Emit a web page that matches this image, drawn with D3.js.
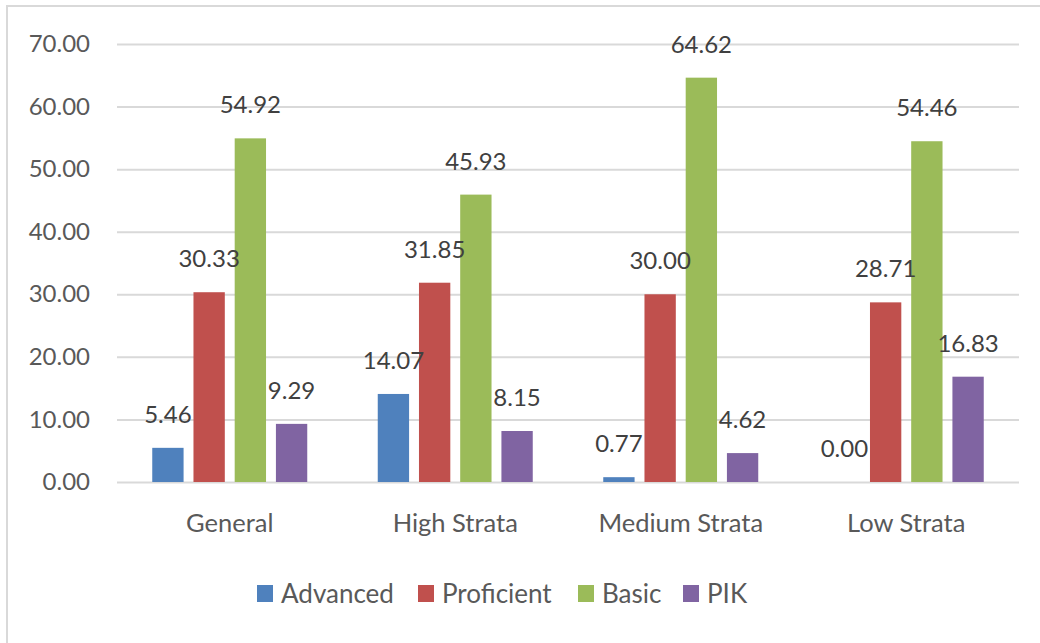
<!DOCTYPE html>
<html>
<head>
<meta charset="utf-8">
<script src="https://cdn.jsdelivr.net/npm/d3@7"></script>
<style>
  body { margin: 0; background: #fff; }
  svg { display: block; font-family: Lato, "Open Sans", sans-serif; }
</style>
</head>
<body>
<div id="chart"></div>
<script>
const categories = ["General", "High Strata", "Medium Strata", "Low Strata"];
const seriesNames = ["Advanced", "Proficient", "Basic", "PIK"];
const advanced = [5.46, 14.07, 0.77, 0.00];
const proficient = [30.33, 31.85, 30.00, 28.71];
const basic = [54.92, 45.93, 64.62, 54.46];
const pik = [9.29, 8.15, 4.62, 16.83];
const yTicks = [0, 10, 20, 30, 40, 50, 60, 70];
const colors = ["#4f81bd", "#c0504d", "#9bbb59", "#8064a2"];

const width = 1040, height = 643;
const plotLeft = 117, plotRight = 1019, plotTop = 44, plotBottom = 482;

const seriesValues = [advanced, proficient, basic, pik];
const rows = [];
categories.forEach((c, i) => {
    seriesNames.forEach((s, j) => {
        rows.push({cat: c, series: s, value: seriesValues[j][i]});
    });
});

const svg = d3.select("#chart").append("svg")
    .attr("width", width)
    .attr("height", height);

// outer frame
svg.append("rect")
    .attr("x", 7).attr("y", 6)
    .attr("width", width).attr("height", height)
    .attr("fill", "none")
    .attr("stroke", "#d9d9d9")
    .attr("stroke-width", 2);

const y = d3.scaleLinear().domain([0, 70]).range([plotBottom, plotTop]);
const x = d3.scaleBand().domain(categories).range([plotLeft, plotRight]).padding(0);
const groupWidth = 155;
const xs = d3.scaleBand().domain(seriesNames)
    .range([0, groupWidth]).paddingInner(0.24);
const color = d3.scaleOrdinal().domain(seriesNames).range(colors);

// gridlines + y labels
const yAxis = d3.axisLeft(y).tickValues(yTicks)
    .tickSize(-(plotRight - plotLeft)).tickFormat(d3.format(".2f"));
const gy = svg.append("g").attr("transform", `translate(${plotLeft},0)`).call(yAxis);
gy.select(".domain").remove();
gy.selectAll(".tick line").attr("stroke", "#d9d9d9").attr("stroke-width", 2);
gy.selectAll(".tick text")
    .attr("x", -27)
    .attr("fill", "#595959")
    .attr("font-size", 24)
    .attr("font-family", "Lato, sans-serif");

// x labels
const xAxis = d3.axisBottom(x).tickSize(0);
const gx = svg.append("g").attr("transform", `translate(0,${plotBottom})`).call(xAxis);
gx.select(".domain").remove();
gx.selectAll(".tick text")
    .attr("dy", 0).attr("y", 50)
    .attr("fill", "#595959")
    .attr("font-size", 25.5)
    .attr("font-family", "Lato, sans-serif");

const barX = d => x(d.cat) + (x.bandwidth() - groupWidth) / 2 + xs(d.series);

svg.append("g").selectAll("rect")
    .data(rows)
    .enter()
    .append("rect")
    .attr("x", barX)
    .attr("y", d => y(d.value))
    .attr("width", xs.bandwidth())
    .attr("height", d => y(0) - y(d.value))
    .attr("fill", d => color(d.series));

svg.append("g").selectAll("text")
    .data(rows)
    .enter()
    .append("text")
    .attr("x", d => barX(d) + xs.bandwidth() / 2)
    .attr("y", d => y(d.value) - 25)
    .attr("text-anchor", "middle")
    .attr("fill", "#404040")
    .attr("font-size", 24)
    .text(d => d.value.toFixed(2));

// legend
const legendX = [257, 418, 578, 683];
const legend = svg.append("g").selectAll("g")
    .data(seriesNames)
    .enter()
    .append("g")
    .attr("transform", (d, i) => `translate(${legendX[i]},585)`);
legend.append("rect")
    .attr("width", 16).attr("height", 17)
    .attr("fill", d => color(d));
legend.append("text")
    .attr("x", 24).attr("y", 18)
    .attr("fill", "#595959")
    .attr("font-size", 26)
    .text(d => d);
</script>
</body>
</html>
